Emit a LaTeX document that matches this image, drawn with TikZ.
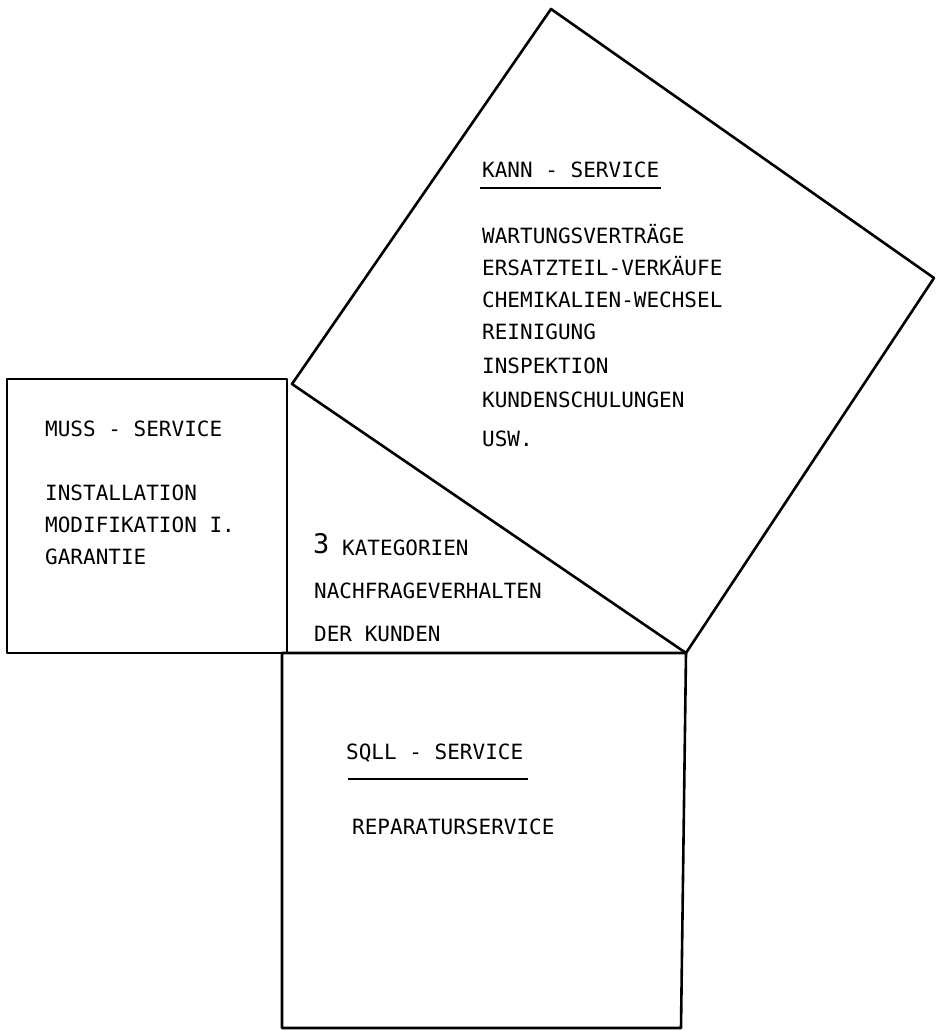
\documentclass[tikz,border=0pt]{standalone}
\usepackage{fontspec}
\setmonofont{DejaVu Sans Mono}
\tikzset{
  frame/.style={line width=2.6pt, line join=round, black},
  txt/.style={anchor=base west, inner sep=0pt, font=\fontsize{21}{25}\selectfont\ttfamily},
  bigthree/.style={anchor=base west, inner sep=0pt, font=\fontsize{27}{30}\selectfont\ttfamily},
  uline/.style={line width=2pt}
}
\begin{document}
\begin{tikzpicture}[x=1pt,y=-1pt]
\useasboundingbox (0,0) rectangle (940,1031);
% corners
\coordinate (L1) at (7,379);
\coordinate (L2) at (287,379);
\coordinate (L3) at (287,653);
\coordinate (L4) at (7,653);
\coordinate (T) at (292,384);
\coordinate (K1) at (551,9);
\coordinate (K2) at (934,278);
\coordinate (R) at (686,653);
\coordinate (B1) at (282,653);
\coordinate (B2) at (681,1028);
\coordinate (B3) at (282,1028);
% left square
\draw[frame] (L1) -- (L2) -- (L3) -- (L4) -- cycle;
% square on hypotenuse
\draw[frame] (T) -- (K1) -- (K2) -- (R) -- cycle;
% bottom square
\draw[frame] (B1) -- (R) -- (B2) -- (B3) -- cycle;
% MUSS
\node[txt] (muss) at (45,436) {MUSS - SERVICE};
\node[txt] (m1) at (45,500) {INSTALLATION};
\node[txt] (m2) at (45,532) {MODIFIKATION I.};
\node[txt] (m3) at (45,564) {GARANTIE};
% centre
\node[bigthree] (three) at (313,553) {3};
\node[txt] (kat) at (342,555) {KATEGORIEN};
\node[txt] (nach) at (314,598) {NACHFRAGEVERHALTEN};
\node[txt] (der) at (314,641) {DER KUNDEN};
% KANN
\node[txt] (kann) at (482,177) {KANN - SERVICE};
\coordinate (ku1) at (480,188);
\coordinate (ku2) at (661,188);
\draw[uline] (ku1) -- (ku2);
\node[txt] (k1) at (482,243) {WARTUNGSVERTRÄGE};
\node[txt] (k2) at (482,275) {ERSATZTEIL-VERKÄUFE};
\node[txt] (k3) at (482,307) {CHEMIKALIEN-WECHSEL};
\node[txt] (k4) at (482,339) {REINIGUNG};
\node[txt] (k5) at (482,373) {INSPEKTION};
\node[txt] (k6) at (482,407) {KUNDENSCHULUNGEN};
\node[txt] (k7) at (482,446) {USW.};
% SOLL
\node[txt] (soll) at (346,759) {SQLL - SERVICE};
\coordinate (su1) at (348,779);
\coordinate (su2) at (528,779);
\draw[uline] (su1) -- (su2);
\node[txt] (s1) at (352,834) {REPARATURSERVICE};
\end{tikzpicture}
\end{document}
